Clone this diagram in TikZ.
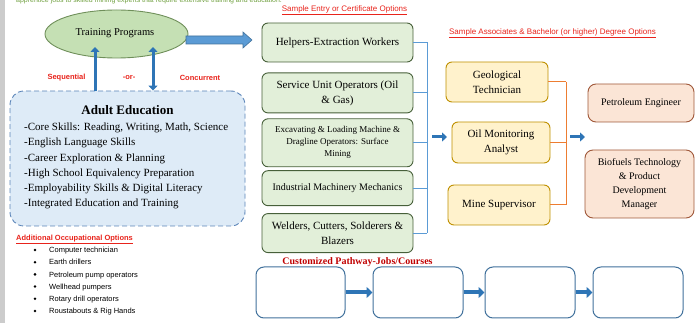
\documentclass[tikz,border=0pt]{standalone}
\usepackage{fontspec}
\setmainfont{Liberation Serif}
\setsansfont{Liberation Sans}
\usetikzlibrary{arrows.meta, positioning, shapes.geometric}

\definecolor{trainFill}{HTML}{C5E0B4}
\definecolor{trainLine}{HTML}{6F8F5A}
\definecolor{entryFill}{HTML}{E2EFD9}
\definecolor{entryLine}{HTML}{47603A}
\definecolor{adultFill}{HTML}{DEEBF7}
\definecolor{adultLine}{HTML}{5B84B8}
\definecolor{degreeFill}{HTML}{FFF2CC}
\definecolor{degreeLine}{HTML}{BF9000}
\definecolor{careerFill}{HTML}{FBE5D6}
\definecolor{careerLine}{HTML}{A0583A}
\definecolor{pathLine}{HTML}{41719C}
\definecolor{arrowBlue}{HTML}{2E75B6}
\definecolor{bigBlue}{HTML}{5B9BD5}
\definecolor{busBlue}{HTML}{5B9BD5}
\definecolor{busOrange}{HTML}{ED7D31}
\definecolor{labelRed}{HTML}{E8231B}
\definecolor{titleRed}{HTML}{C00000}
\definecolor{noteGreen}{HTML}{70A040}

\tikzset{
  entrybox/.style={draw=entryLine, fill=entryFill, line width=0.9pt, rounded corners=6pt, minimum width=151pt, inner sep=2pt, align=center, font=\fontsize{11}{15}\selectfont},
  degreebox/.style={draw=degreeLine, fill=degreeFill, line width=0.9pt, rounded corners=6pt, inner sep=2pt, align=center, font=\fontsize{11}{15}\selectfont},
  careerbox/.style={draw=careerLine, fill=careerFill, line width=0.9pt, rounded corners=8pt, inner sep=2pt, align=center, font=\fontsize{10}{14}\selectfont},
  pathbox/.style={draw=pathLine, fill=white, line width=1pt, rounded corners=8pt, minimum width=90pt, minimum height=51pt},
  redlabel/.style={text=labelRed, font=\sffamily\bfseries\fontsize{7.5}{9}\selectfont},
  redhead/.style={text=labelRed, font=\sffamily\fontsize{8}{10}\selectfont},
  fatarrow/.style={draw=arrowBlue, line width=3pt, -{Triangle[length=5pt, width=9pt]}},
  patharrow/.style={draw=arrowBlue, line width=4pt, -{Triangle[length=6pt, width=11pt]}},
}

\begin{document}
\begin{tikzpicture}[x=1pt, y=-1pt, >=Stealth]
\useasboundingbox (0,0) rectangle (697,323);
\fill[gray!40] (0,0) rectangle (5,323);

% cut-off note at the top
\node[anchor=base west, inner sep=0, text=noteGreen, font=\sffamily\fontsize{7}{8}\selectfont] (topnote) at (16,3) {apprentice jobs to skilled mining experts that require extensive training and education.};

% training programs
\node[ellipse, draw=trainLine, fill=trainFill, line width=0.9pt, minimum width=143pt, minimum height=48pt, font=\fontsize{10.5}{12}\selectfont] (train) at (116.5,34) {};
\node (trainText) at (115,33.5) {\fontsize{10.5}{12}\selectfont Training Programs};
\filldraw[fill=bigBlue, draw=pathLine, line width=0.6pt] (186,36) -- (243,36) -- (243,32) -- (252,40) -- (243,48) -- (243,44) -- (186,44) -- cycle;

% adult education
\node[draw=adultLine, fill=adultFill, dashed, dash pattern=on 5pt off 3pt, line width=0.9pt, rounded corners=14pt, minimum width=235pt, minimum height=135pt] (adult) at (127.5,158.5) {};
\node[font=\bfseries\fontsize{13}{15}\selectfont] (adultTitle) at (127.5,110) {Adult Education};
\foreach \txt [count=\i from 0] in {{-Core Skills: Reading, Writing, Math, Science}, {-English Language Skills}, {-Career Exploration \& Planning}, {-High School Equivalency Preparation}, {-Employability Skills \& Digital Literacy}, {-Integrated Education and Training}}
  \node[anchor=base west, inner sep=0, font=\fontsize{11}{13}\selectfont] (item\i) at (24,130.5+15.3*\i) {\txt};

\coordinate (upL) at (95,47);
\coordinate (upR) at (153,47);
\draw[fatarrow] (adult.north -| upL) -- (upL);
\draw[fatarrow, {Triangle[length=5pt, width=9pt]}-{Triangle[length=5pt, width=9pt]}] (adult.north -| upR) -- (upR);

\node[redlabel] (seq) at (66.5,78) {Sequential};
\node[redlabel] (orLabel) at (129,78) {-or-};
\node[redlabel] (conc) at (200,78) {Concurrent};

% additional options
\node[redlabel, anchor=base west, inner sep=0] (addHead) at (16,240.5) {\underline{Additional Occupational Options}};
\foreach \txt [count=\i from 0] in {Computer technician, Earth drillers, Petroleum pump operators, Wellhead pumpers, Rotary drill operators, Roustabouts \& Rig Hands} {
  \fill (35,250+12.2*\i) circle (1.4pt);
  \node[anchor=base west, inner sep=0, font=\sffamily\fontsize{7.5}{9}\selectfont] (opt\i) at (49,252.7+12.2*\i) {\txt};
}

% entry / certificate column
\node[redhead] (entryHead) at (344.5,10) {\underline{Sample Entry or Certificate Options}};
\node[entrybox, minimum height=39pt] (e1) at (337.5,42.5) {Helpers-Extraction Workers};
\node[entrybox, minimum height=40pt, below=10pt of e1] (e2) {Service Unit Operators (Oil\\ \& Gas)};
\node[entrybox, minimum height=48pt, below=5pt of e2, font=\fontsize{9}{12}\selectfont] (e3) {Excavating \& Loading Machine \&\\ Dragline Operators: Surface\\ Mining};
\node[entrybox, minimum height=35pt, below=3pt of e3, font=\fontsize{10}{12}\selectfont] (e4) {Industrial Machinery Mechanics};
\node[entrybox, minimum height=39pt, below=7pt of e4] (e5) {Welders, Cutters, Solderers \&\\ Blazers};

\coordinate (bus) at (427,0);
\foreach \n in {e1,e2,e3,e4,e5}
  \draw[busBlue, line width=1pt] (\n.east) -- (\n.east -| bus);
\draw[busBlue, line width=1pt] (e1.east -| bus) -- (e5.east -| bus);
\coordinate (arrA) at (432,137);
\coordinate (arrB) at (447,137);
\draw[fatarrow] (arrA) -- (arrB);

% associates / bachelor column
\node[redhead] (degHead) at (552.5,33) {\underline{Sample Associates \& Bachelor (or higher) Degree Options}};
\node[degreebox, minimum width=102pt, minimum height=40pt] (geo) at (497,82) {Geological\\ Technician};
\node[degreebox, minimum width=98pt, minimum height=41pt] (oil) at (501,142.5) {Oil Monitoring\\ Analyst};
\node[degreebox, minimum width=102pt, minimum height=40pt] (mine) at (499,205) {Mine Supervisor};

\coordinate (obus) at (566,0);
\foreach \n in {geo,oil,mine}
  \draw[busOrange, line width=1pt] (\n.east) -- (\n.east -| obus);
\draw[busOrange, line width=1pt] (geo.east -| obus) -- (mine.east -| obus);
\coordinate (arrC) at (570,137);
\coordinate (arrD) at (585,137);
\draw[fatarrow] (arrC) -- (arrD);

% careers
\node[careerbox, minimum width=106pt, minimum height=38pt] (petro) at (641,103) {Petroleum Engineer};
\node[careerbox, minimum width=109pt, minimum height=68pt] (bio) at (639.5,184) {Biofuels Technology\\ \& Product\\ Development\\ Manager};

% customized pathway
\node[text=titleRed, font=\bfseries\fontsize{10}{12}\selectfont] (pathHead) at (357.5,262) {Customized Pathway-Jobs/Courses};
\node[pathbox, minimum width=89pt] (p1) at (300.5,292.5) {};
\node[pathbox] (p2) at (418,292.5) {};
\node[pathbox] (p3) at (530,292.5) {};
\node[pathbox] (p4) at (638,292.5) {};
\draw[patharrow] (p1) -- (p2);
\draw[patharrow] (p2) -- (p3);
\draw[patharrow] (p3) -- (p4);
\end{tikzpicture}
\end{document}
